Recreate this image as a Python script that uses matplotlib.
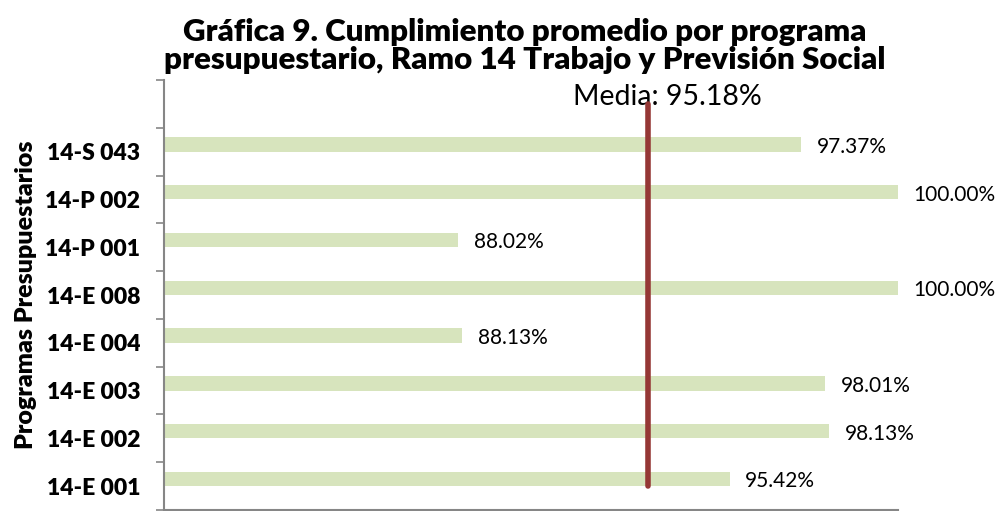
import numpy as np
import matplotlib
matplotlib.use('Agg')
import matplotlib.pyplot as plt

# datos
programas = ['14-E 001', '14-E 002', '14-E 003', '14-E 004', '14-E 008', '14-P 001', '14-P 002', '14-S 043']
cumplimiento = [95.42, 98.13, 98.01, 88.13, 100.00, 88.02, 100.00, 97.37]
media = 95.18
media_pos = 93.2          # posición donde está dibujada la línea en la gráfica original
media_y = [0, 8]

plt.rcParams['font.family'] = ['Lato', 'DejaVu Sans']

fig = plt.figure(figsize=(10.01, 5.11), dpi=100)
ax = fig.add_axes([0.1638, 0.002, 0.7333, 0.8414])

y = np.arange(len(programas))
ax.barh(y + 0.15, [v - 80 for v in cumplimiento], left=80, height=0.3, color='#D7E4BD')

for yi, v in zip(y, cumplimiento):
    ax.text(v + 0.42, yi + 0.1, '%.2f%%' % v, va='center', ha='left', fontsize=15, color='#000000')

ax.plot([media_pos, media_pos], media_y, color='#953735', linewidth=4, solid_capstyle='round', zorder=3)
ax.text(media_pos - 2.05, 8.14, 'Media: %.2f%%' % media, ha='left', va='center', fontsize=20.5, color='#000000', zorder=2)

ax.set_xlim(80, 100)
ax.set_ylim(-0.5, len(programas) + 0.5)

ax.set_xticks([80, 100])
ax.set_xticklabels([])
ax.set_yticks(y)
ax.set_yticklabels(programas, fontsize=16.5, fontweight='heavy')
ax.set_yticks(np.arange(-0.5, len(programas) + 0.6, 1), minor=True)
ax.tick_params(axis='y', which='major', length=0, pad=17)
ax.tick_params(axis='y', which='minor', length=6, width=1.2, color='#868686', direction='out')
ax.tick_params(axis='x', length=6, width=1.2, color='#868686', direction='out')

for s in ['top', 'right']:
    ax.spines[s].set_visible(False)
for s in ['left', 'bottom']:
    ax.spines[s].set_color('#868686')
    ax.spines[s].set_linewidth(1.5)

ax.set_ylabel('Programas Presupuestarios', fontsize=18, fontweight='heavy', labelpad=6)

fig.text(0.524, 0.91, 'Gráfica 9. Cumplimiento promedio por programa\npresupuestario, Ramo 14 Trabajo y Previsión Social',
         ha='center', va='center', fontsize=22.5, fontweight='heavy', linespacing=1.0)

fig.savefig('out.png', dpi=100)
